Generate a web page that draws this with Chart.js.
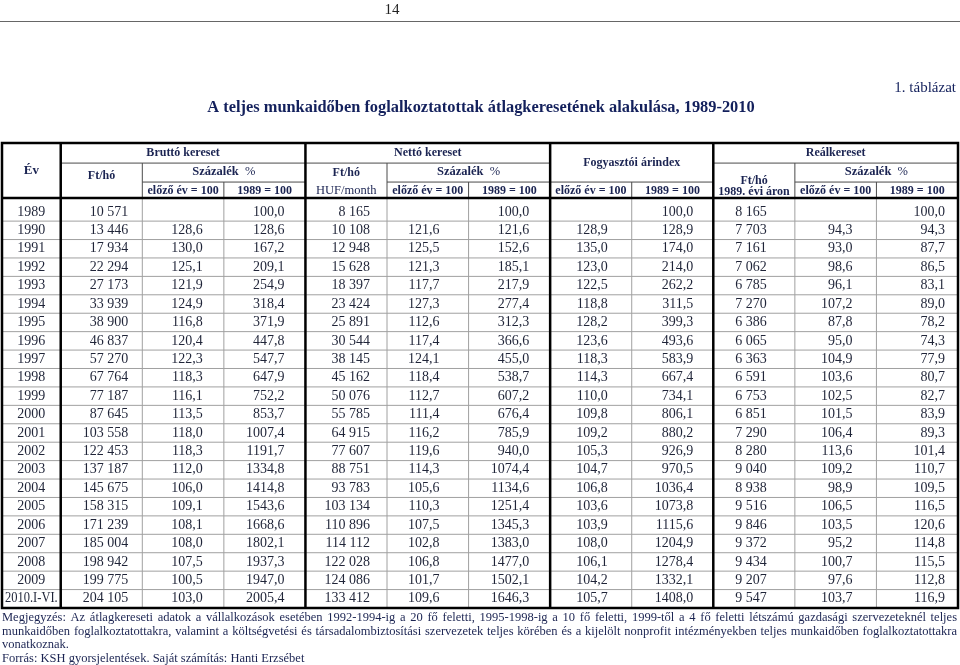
<!DOCTYPE html>
<html>
<head>
<meta charset="utf-8">
<script src="https://cdn.jsdelivr.net/npm/chart.js@4"></script>
<style>
  html,body{margin:0;padding:0;background:#fff;}
  canvas{display:block;}
</style>
</head>
<body>
<canvas id="tabla" width="960" height="665"></canvas>
<script>
// --- adatok ---
var years = ['1989','1990','1991','1992','1993','1994','1995','1996','1997','1998','1999','2000','2001','2002','2003','2004','2005','2006','2007','2008','2009','2010.I-VI.'];

var bruttoFt    = [10571,13446,17934,22294,27173,33939,38900,46837,57270,67764,77187,87645,103558,122453,137187,145675,158315,171239,185004,198942,199775,204105];
var bruttoElozo = [null,128.6,130.0,125.1,121.9,124.9,116.8,120.4,122.3,118.3,116.1,113.5,118.0,118.3,112.0,106.0,109.1,108.1,108.0,107.5,100.5,103.0];
var brutto1989  = [100.0,128.6,167.2,209.1,254.9,318.4,371.9,447.8,547.7,647.9,752.2,853.7,1007.4,1191.7,1334.8,1414.8,1543.6,1668.6,1802.1,1937.3,1947.0,2005.4];

var nettoFt     = [8165,10108,12948,15628,18397,23424,25891,30544,38145,45162,50076,55785,64915,77607,88751,93783,103134,110896,114112,122028,124086,133412];
var nettoElozo  = [null,121.6,125.5,121.3,117.7,127.3,112.6,117.4,124.1,118.4,112.7,111.4,116.2,119.6,114.3,105.6,110.3,107.5,102.8,106.8,101.7,109.6];
var netto1989   = [100.0,121.6,152.6,185.1,217.9,277.4,312.3,366.6,455.0,538.7,607.2,676.4,785.9,940.0,1074.4,1134.6,1251.4,1345.3,1383.0,1477.0,1502.1,1646.3];

var arElozo     = [null,128.9,135.0,123.0,122.5,118.8,128.2,123.6,118.3,114.3,110.0,109.8,109.2,105.3,104.7,106.8,103.6,103.9,108.0,106.1,104.2,105.7];
var ar1989      = [100.0,128.9,174.0,214.0,262.2,311.5,399.3,493.6,583.9,667.4,734.1,806.1,880.2,926.9,970.5,1036.4,1073.8,1115.6,1204.9,1278.4,1332.1,1408.0];

var realFt      = [8165,7703,7161,7062,6785,7270,6386,6065,6363,6591,6753,6851,7290,8280,9040,8938,9516,9846,9372,9434,9207,9547];
var realElozo   = [null,94.3,93.0,98.6,96.1,107.2,87.8,95.0,104.9,103.6,102.5,101.5,106.4,113.6,109.2,98.9,106.5,103.5,95.2,100.7,97.6,103.7];
var real1989    = [100.0,94.3,87.7,86.5,83.1,89.0,78.2,74.3,77.9,80.7,82.7,83.9,89.3,101.4,110.7,109.5,116.5,120.6,114.8,115.5,112.8,116.9];

var columns = [bruttoFt,bruttoElozo,brutto1989,nettoFt,nettoElozo,netto1989,arElozo,ar1989,realFt,realElozo,real1989];
var colKind = ['ft','pct','pct','ft','pct','pct','pct','pct','ft','pct','pct'];

// --- elrendezés (oszlop egységekben) ---
var EV_W = 0.72;                                   // "Év" oszlop szélessége
var colPad = [14,21,21,17,29,21,24,20,28,24,13];   // jobb oldali belső margó, px
var HEAD_TOP = -3.24, HEAD_BOT = -0.25, HEAD_L1 = -2.15, HEAD_L2 = -1.12;

function colLeft(k){ return k === 0 ? 0 : EV_W + (k - 1); }  // k: 0 = Év, 1..11 = adat oszlopok
function colRight(k){ return k === 0 ? EV_W : EV_W + k; }

var FONT = '"Liberation Serif", "Times New Roman", serif';
var C_TEXT = '#1f2438', C_HEAD = '#1b2452', C_TITLE = '#13205c';

function fmt(v, kind){
  if(v === null || v === undefined) return '';
  if(kind === 'ft') return String(v).replace(/\B(?=(\d{3})+(?!\d))/g, ' ');
  return v.toFixed(1).replace('.', ',');
}

var datasets = columns.map(function(arr, i){
  return {
    label: 'c' + i,
    data: arr.map(function(v, r){ return { x: colLeft(i + 1) + 0.5, y: r + 0.5, v: v }; }),
    pointRadius: 0,
    kind: colKind[i],
    col: i + 1
  };
});
datasets.unshift({
  label: 'ev',
  data: years.map(function(y, r){ return { x: EV_W / 2, y: r + 0.5, v: y }; }),
  pointRadius: 0,
  kind: 'txt',
  col: 0
});

function justify(ctx, text, x0, x1, y){
  var words = text.split(' ');
  var sum = 0;
  words.forEach(function(w){ sum += ctx.measureText(w).width; });
  var gap = (x1 - x0 - sum) / (words.length - 1);
  var x = x0;
  ctx.textAlign = 'left';
  words.forEach(function(w){ ctx.fillText(w, x, y); x += ctx.measureText(w).width + gap; });
}

var tablePlugin = {
  id: 'tablePlugin',
  beforeDatasetsDraw: function(chart){
    var ctx = chart.ctx, xs = chart.scales.x, ys = chart.scales.y;
    var X = function(v){ return xs.getPixelForValue(v); };
    var Y = function(v){ return ys.getPixelForValue(v); };
    ctx.save();
    ctx.lineCap = 'butt';

    function hline(v, a, b, color, w){ ctx.strokeStyle = color; ctx.lineWidth = w; ctx.beginPath(); ctx.moveTo(X(a), Y(v)); ctx.lineTo(X(b), Y(v)); ctx.stroke(); }
    function vline(v, a, b, color, w){ ctx.strokeStyle = color; ctx.lineWidth = w; ctx.beginPath(); ctx.moveTo(X(v), Y(a)); ctx.lineTo(X(v), Y(b)); ctx.stroke(); }

    var GRID = '#a0a0a0', HEADLINE = '#4a4a4a';
    // adat sorok vonalai
    for(var r = 1; r < years.length; r++) hline(r, 0, colRight(11), GRID, 1);
    // adat oszlopok vékony vonalai
    [2,3,5,6,8,10,11].forEach(function(k){ vline(colLeft(k), HEAD_BOT, years.length, GRID, 1); });

    // fejléc vonalai
    hline(HEAD_L1, colLeft(1), colRight(6), HEADLINE, 1);
    hline(HEAD_L1, colLeft(9), colRight(11), HEADLINE, 1);
    [[2,3],[5,6],[7,8],[10,11]].forEach(function(p){ hline(HEAD_L2, colLeft(p[0]), colRight(p[1]), HEADLINE, 1); });
    vline(colLeft(2), HEAD_L1, HEAD_BOT, HEADLINE, 1);
    vline(colLeft(5), HEAD_L1, HEAD_BOT, HEADLINE, 1);
    vline(colLeft(10), HEAD_L1, HEAD_BOT, HEADLINE, 1);
    [3,6,8,11].forEach(function(k){ vline(colLeft(k), HEAD_L2, HEAD_BOT, HEADLINE, 1); });

    // vastag vonalak
    var TH = '#000';
    [1,4,7,9].forEach(function(k){ vline(colLeft(k), HEAD_TOP, years.length, TH, 2.5); });
    hline(HEAD_BOT, 0, colRight(11), TH, 2.5);
    ctx.strokeStyle = TH; ctx.lineWidth = 2.5;
    ctx.strokeRect(X(0), Y(HEAD_TOP), X(colRight(11)) - X(0), Y(years.length) - Y(HEAD_TOP));

    // fejléc szövegei
    ctx.fillStyle = C_HEAD;
    ctx.textBaseline = 'middle';
    ctx.textAlign = 'center';
    function txt(s, a, b, yv, bold, size){
      ctx.font = (bold ? 'bold ' : '') + (size || 12) + 'px ' + FONT;
      ctx.fillText(s, (X(colLeft(a)) + X(colRight(b))) / 2, Y(yv));
    }
    function szazalek(a, b){
      ctx.font = 'bold 12.5px ' + FONT;
      var w1 = ctx.measureText('Százalék').width;
      ctx.font = '12.5px ' + FONT;
      var w2 = ctx.measureText('  %').width;
      var cx = (X(colLeft(a)) + X(colRight(b))) / 2, x0 = cx - (w1 + w2) / 2;
      ctx.textAlign = 'left';
      ctx.font = 'bold 12.5px ' + FONT; ctx.fillText('Százalék', x0, Y(-1.67));
      ctx.font = '12.5px ' + FONT; ctx.fillText('  %', x0 + w1, Y(-1.67));
      ctx.textAlign = 'center';
    }
    txt('Év', 0, 0, -1.72, true, 13);
    txt('Bruttó kereset', 1, 3, -2.70, true);
    txt('Ft/hó', 1, 1, -1.45, true);
    szazalek(2, 3);
    txt('Nettó kereset', 4, 6, -2.70, true);
    txt('Ft/hó', 4, 4, -1.61, true);
    txt('HUF/month', 4, 4, -0.63, false, 12.5);
    szazalek(5, 6);
    txt('Fogyasztói árindex', 7, 8, -2.15, true);
    txt('Reálkereset', 9, 11, -2.70, true);
    txt('Ft/hó', 9, 9, -1.20, true);
    txt('1989. évi áron', 9, 9, -0.56, true);
    szazalek(10, 11);
    [2,5,7,10].forEach(function(k){ txt('előző év = 100', k, k, -0.63, true); });
    [3,6,8,11].forEach(function(k){ txt('1989 = 100', k, k, -0.63, true); });
    ctx.restore();
  },
  afterDatasetsDraw: function(chart){
    var ctx = chart.ctx, xs = chart.scales.x;
    var evW = xs.getPixelForValue(EV_W) - xs.getPixelForValue(0) - 6;
    ctx.save();
    ctx.fillStyle = C_TEXT;
    ctx.font = '14px ' + FONT;
    ctx.textBaseline = 'middle';
    chart.data.datasets.forEach(function(ds, di){
      var meta = chart.getDatasetMeta(di);
      meta.data.forEach(function(el, r){
        var raw = ds.data[r];
        if(ds.kind === 'txt'){
          ctx.textAlign = 'center';
          var w = ctx.measureText(raw.v).width;
          if(w > evW){
            ctx.save();
            ctx.translate(el.x, el.y);
            ctx.scale(evW / w, 1);
            ctx.fillText(raw.v, 0, 0);
            ctx.restore();
          } else {
            ctx.fillText(raw.v, el.x, el.y);
          }
        } else {
          var s = fmt(raw.v, ds.kind);
          if(!s) return;
          ctx.textAlign = 'right';
          ctx.fillText(s, xs.getPixelForValue(colRight(ds.col)) - colPad[ds.col - 1], el.y);
        }
      });
    });
    ctx.restore();
  },
  afterDraw: function(chart){
    var ctx = chart.ctx;
    ctx.save();
    ctx.textBaseline = 'middle';
    // oldalszám
    ctx.fillStyle = '#222';
    ctx.font = '15px ' + FONT;
    ctx.textAlign = 'center';
    ctx.fillText('14', 392, 10);
    ctx.strokeStyle = '#666'; ctx.lineWidth = 1;
    ctx.beginPath(); ctx.moveTo(0, 21.5); ctx.lineTo(960, 21.5); ctx.stroke();
    // táblázat száma, cím
    ctx.fillStyle = C_TITLE;
    ctx.textAlign = 'right';
    ctx.font = '15px ' + FONT;
    ctx.fillText('1. táblázat', 956, 88);
    ctx.textAlign = 'center';
    ctx.font = 'bold 16.4px ' + FONT;
    ctx.fillText('A teljes munkaidőben foglalkoztatottak átlagkeresetének alakulása, 1989-2010', 481, 108);
    // megjegyzés
    ctx.fillStyle = C_HEAD;
    ctx.font = '12.5px ' + FONT;
    justify(ctx, 'Megjegyzés: Az átlagkereseti adatok a vállalkozások esetében 1992-1994-ig a 20 fő feletti, 1995-1998-ig a 10 fő feletti, 1999-től a 4 fő feletti létszámú gazdasági szervezeteknél teljes', 2, 957, 618);
    justify(ctx, 'munkaidőben foglalkoztatottakra, valamint a költségvetési és társadalombiztosítási szervezetek teljes körében és a kijelölt nonprofit intézményekben teljes munkaidőben foglalkoztatottakra', 2, 957, 632);
    ctx.textAlign = 'left';
    ctx.fillText('vonatkoznak.', 2, 645);
    ctx.fillText('Forrás: KSH gyorsjelentések. Saját számítás: Hanti Erzsébet', 2, 659);
    ctx.restore();
  }
};

new Chart(document.getElementById('tabla'), {
  type: 'scatter',
  data: { datasets: datasets },
  options: {
    responsive: false,
    animation: false,
    events: [],
    layout: { padding: { left: 2, right: 2, top: 143, bottom: 57 } },
    plugins: { legend: { display: false }, tooltip: { enabled: false } },
    scales: {
      x: { type: 'linear', display: false, min: 0, max: colRight(11) },
      y: { type: 'linear', display: false, reverse: true, min: HEAD_TOP, max: years.length }
    }
  },
  plugins: [tablePlugin]
});
</script>
</body>
</html>
